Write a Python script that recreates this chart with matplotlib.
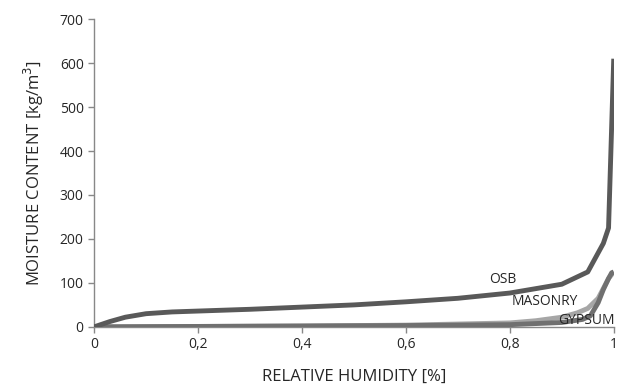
import numpy as np
import matplotlib
matplotlib.use("Agg")
import matplotlib.pyplot as plt

plt.rcParams["font.family"] = ["Open Sans", "DejaVu Sans"]

# sorption curves
rh_osb = [0, 0.03, 0.06, 0.1, 0.15, 0.2, 0.3, 0.4, 0.5, 0.6, 0.7, 0.8, 0.9, 0.95, 0.98, 0.99, 1.0]
mc_osb = [0, 12, 22, 30, 34, 36, 40, 45, 50, 57, 65, 77, 97, 125, 190, 225, 610]

rh_masonry = [0, 0.2, 0.4, 0.6, 0.8, 0.85, 0.9, 0.93, 0.95, 0.97, 0.99, 1.0]
mc_masonry = [0, 1, 2, 4, 9, 14, 22, 32, 42, 65, 110, 125]

rh_gypsum = [0, 0.2, 0.4, 0.6, 0.8, 0.9, 0.94, 0.955, 0.97, 0.98, 0.99, 0.996, 1.0]
mc_gypsum = [0, 1, 2, 3, 5, 10, 17, 25, 55, 85, 110, 123, 125]

x_ticks = [0, 0.2, 0.4, 0.6, 0.8, 1.0]
x_tick_labels = ["0", "0,2", "0,4", "0,6", "0,8", "1"]
y_ticks = [0, 100, 200, 300, 400, 500, 600, 700]

fig = plt.figure(figsize=(6.36, 3.91), dpi=100)
ax = fig.add_axes([0.148, 0.164, 0.817, 0.787])

ax.plot(rh_masonry, mc_masonry, color="#a6a6a6", linewidth=3.5, solid_capstyle="butt", zorder=2)
ax.plot(rh_gypsum, mc_gypsum, color="#707070", linewidth=3.5, solid_capstyle="butt", zorder=3)
ax.plot(rh_osb, mc_osb, color="#595959", linewidth=3.5, solid_capstyle="butt", zorder=4)

ax.text(0.787, 107, "OSB", ha="center", va="center", fontsize=10, color="#262626")
ax.text(0.867, 57, "MASONRY", ha="center", va="center", fontsize=10, color="#262626")
ax.text(0.948, 14, "GYPSUM", ha="center", va="center", fontsize=10, color="#262626")

ax.set_xlim(0, 1)
ax.set_ylim(0, 700)
ax.set_xticks(x_ticks)
ax.set_xticklabels(x_tick_labels)
ax.set_yticks(y_ticks)
ax.tick_params(axis="both", labelsize=10, colors="#262626", length=4, width=1, direction="out")
ax.tick_params(axis="both", color="#888888")

for s in ["top", "right"]:
    ax.spines[s].set_visible(False)
for s in ["left", "bottom"]:
    ax.spines[s].set_color("#888888")
    ax.spines[s].set_linewidth(1)

ax.set_xlabel("RELATIVE HUMIDITY [%]", fontsize=12, color="#262626", labelpad=12)
ax.set_ylabel("MOISTURE CONTENT [kg/m$^3$]", fontsize=12, color="#262626", labelpad=10)

fig.savefig("out.png", dpi=100)
